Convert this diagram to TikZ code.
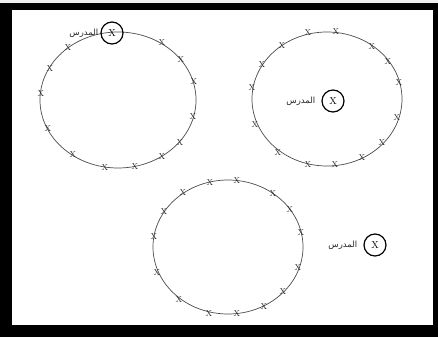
\documentclass[tikz,border=0pt]{standalone}
\usepackage{fontspec}
\newfontfamily\arabicfont[Script=Arabic]{DejaVu Sans}
\TeXXeTstate=1
\tikzset{
  pupil/.style={inner sep=0pt, font=\fontsize{8.5}{8.5}\selectfont, text=black!85},
  ring/.style={draw=black!70, line width=0.7pt},
  teacher/.style={circle, draw=black, line width=1.2pt, minimum size=22pt, inner sep=0pt, font=\fontsize{10}{10}\selectfont},
  tlabel/.style={inner sep=0pt, font=\arabicfont\fontsize{8.5}{9}\selectfont, text=black!85}
}
\begin{document}
\begin{tikzpicture}[x=1pt,y=-1pt]
\useasboundingbox (0,0) rectangle (438,337);
\fill[black!6] (0,0) rectangle (438,337);
\fill[black] (0,3) rectangle (438,337);
\fill[white] (12,10) rectangle (433,325);
% ring 1
\draw[ring] (118,100) ellipse [x radius=78, y radius=68];
\foreach \p [count=\i] in {(68,48),(50,69),(41,94),(48,129),(73,155),(105,168),(135,167),(162,157),(180,143),(193,117),(194,82),(181,60),(162,43)}
  \node[pupil] (a\i) at \p {X};
\node[teacher] (t1) at (112,33) {X};
\node[tlabel, anchor=east] (l1) at ([xshift=-2pt]t1.west) {\beginR المدرس\endR};
% ring 2
\draw[ring] (327,99) ellipse [x radius=75, y radius=67];
\foreach \p [count=\i] in {(308,33),(336,32),(372,47),(388,62),(399,83),(397,118),(382,143),(362,158),(335,165),(308,165),(278,153),(255,125),(252,88),(262,65),(282,46)}
  \node[pupil] (b\i) at \p {X};
\node[teacher] (t2) at (333,101) {X};
\node[tlabel, anchor=east] (l2) at ([xshift=-6pt]t2.west) {\beginR المدرس\endR};
% ring 3
\draw[ring] (228,247) ellipse [x radius=75, y radius=67];
\foreach \p [count=\i] in {(210,183),(237,181),(273,194),(290,210),(301,233),(298,268),(283,292),(264,307),(237,314),(209,314),(179,300),(157,273),(154,237),(164,212),(183,193)}
  \node[pupil] (c\i) at \p {X};
\node[teacher] (t3) at (375,245) {X};
\node[tlabel, anchor=east] (l3) at ([xshift=-6pt]t3.west) {\beginR المدرس\endR};
\end{tikzpicture}
\end{document}
